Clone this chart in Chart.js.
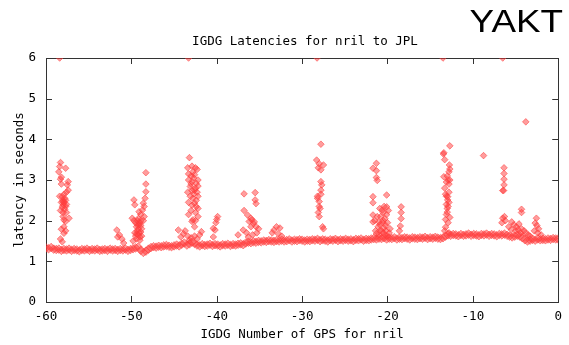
<!DOCTYPE html>
<html lang="en">
<head>
<meta charset="UTF-8">
<title>IGDG Latencies for nril to JPL</title>
<script src="https://cdn.jsdelivr.net/npm/chart.js@4.4.1/dist/chart.umd.min.js"></script>
<style>
    body { margin: 0; background: #fff; }
    #wrap { width: 569px; height: 345px; }
</style>
</head>
<body>
<div id="wrap"><canvas id="latChart" width="569" height="345"></canvas></div>
<script>
// x = GPS number offset, y = latency in seconds
const xTicks = [-60, -50, -40, -30, -20, -10, 0];
const yTicks = [0, 1, 2, 3, 4, 5, 6];

// the dense band of normal latencies
const baseline = [
    [-60.0,1.33],[-59.7,1.31],[-59.4,1.34],[-59.1,1.30],[-58.8,1.29],[-58.5,1.30],[-58.2,1.27],[-57.9,1.29],[-57.6,1.28],[-57.3,1.30],
    [-57.0,1.27],[-56.7,1.29],[-56.4,1.28],[-56.1,1.26],[-55.8,1.29],[-55.5,1.28],[-55.2,1.30],[-54.9,1.27],[-54.6,1.29],[-54.3,1.28],
    [-54.0,1.30],[-53.7,1.27],[-53.4,1.28],[-53.1,1.29],[-52.8,1.27],[-52.5,1.30],[-52.2,1.28],[-51.9,1.29],[-51.6,1.27],[-51.3,1.29],
    [-51.0,1.28],[-50.7,1.30],[-50.4,1.27],[-50.1,1.29],[-49.8,1.31],[-49.5,1.33],[-49.2,1.35],[-48.9,1.27],[-48.6,1.22],[-48.3,1.25],
    [-48.0,1.30],[-47.7,1.34],[-47.4,1.36],[-47.1,1.35],[-46.8,1.37],[-46.5,1.36],[-46.2,1.38],[-45.9,1.39],[-45.6,1.37],[-45.3,1.36],
    [-45.0,1.38],[-44.7,1.40],[-44.4,1.38],[-44.1,1.42],[-43.8,1.45],[-43.5,1.40],[-43.2,1.43],[-42.9,1.47],[-42.6,1.44],[-42.3,1.40],
    [-42.0,1.38],[-41.7,1.41],[-41.4,1.39],[-41.1,1.40],[-40.8,1.42],[-40.5,1.39],[-40.2,1.41],[-39.9,1.40],[-39.6,1.38],[-39.3,1.41],
    [-39.0,1.40],[-38.7,1.42],[-38.4,1.39],[-38.1,1.41],[-37.8,1.40],[-37.5,1.42],[-37.2,1.43],[-36.9,1.41],[-36.6,1.45],[-36.3,1.47],
    [-36.0,1.46],[-35.7,1.48],[-35.4,1.47],[-35.1,1.49],[-34.8,1.48],[-34.5,1.50],[-34.2,1.49],[-33.9,1.51],[-33.6,1.50],[-33.3,1.49],
    [-33.0,1.51],[-32.7,1.50],[-32.4,1.52],[-32.1,1.50],[-31.8,1.51],[-31.5,1.53],[-31.2,1.50],[-30.9,1.52],[-30.6,1.51],[-30.3,1.53],
    [-30.0,1.52],[-29.7,1.50],[-29.4,1.52],[-29.1,1.51],[-28.8,1.53],[-28.5,1.52],[-28.2,1.54],[-27.9,1.51],[-27.6,1.53],[-27.3,1.52],
    [-27.0,1.50],[-26.7,1.53],[-26.4,1.52],[-26.1,1.54],[-25.8,1.51],[-25.5,1.53],[-25.2,1.52],[-24.9,1.54],[-24.6,1.52],[-24.3,1.53],
    [-24.0,1.51],[-23.7,1.54],[-23.4,1.53],[-23.1,1.55],[-22.8,1.52],[-22.5,1.54],[-22.2,1.53],[-21.9,1.55],[-21.6,1.56],[-21.3,1.55],
    [-21.0,1.57],[-20.7,1.56],[-20.4,1.58],[-20.1,1.55],[-19.8,1.57],[-19.5,1.56],[-19.2,1.58],[-18.9,1.55],[-18.6,1.57],[-18.3,1.56],
    [-18.0,1.58],[-17.7,1.57],[-17.4,1.55],[-17.1,1.58],[-16.8,1.57],[-16.5,1.56],[-16.2,1.58],[-15.9,1.57],[-15.6,1.59],[-15.3,1.56],
    [-15.0,1.58],[-14.7,1.57],[-14.4,1.59],[-14.1,1.57],[-13.8,1.56],[-13.5,1.58],[-13.2,1.62],[-12.9,1.65],[-12.6,1.64],[-12.3,1.66],
    [-12.0,1.65],[-11.7,1.63],[-11.4,1.66],[-11.1,1.64],[-10.8,1.65],[-10.5,1.67],[-10.2,1.64],[-9.9,1.66],[-9.6,1.65],[-9.3,1.63],
    [-9.0,1.66],[-8.7,1.65],[-8.4,1.67],[-8.1,1.64],[-7.8,1.66],[-7.5,1.65],[-7.2,1.63],[-6.9,1.66],[-6.6,1.65],[-6.3,1.67],
    [-6.0,1.64],[-5.7,1.62],[-5.4,1.60],[-5.1,1.62],[-4.8,1.64],[-4.5,1.62],[-4.2,1.58],[-3.9,1.53],[-3.6,1.50],[-3.3,1.52],
    [-3.0,1.54],[-2.7,1.52],[-2.4,1.55],[-2.1,1.53],[-1.8,1.54],[-1.5,1.53],[-1.2,1.55],[-0.9,1.54],[-0.6,1.56],[-0.3,1.55],
    [0.0,1.55]
];

// latency spikes above the band
const spikes = [
    [-58.3,3.43],[-58.4,3.33],[-58.5,3.20],[-58.2,3.07],[-58.3,3.02],[-57.7,3.29],[-57.4,2.96],[-57.5,2.88],[-57.4,2.75],[-57.6,2.70],
    [-58.4,2.60],[-58.1,2.59],[-58.0,2.50],[-58.0,2.47],[-57.9,2.44],[-57.7,2.35],[-58.1,2.33],[-57.8,2.28],[-57.6,2.40],[-58.0,2.20],
    [-57.9,2.02],[-57.7,1.98],[-57.3,2.06],[-58.2,1.79],[-57.7,1.75],[-57.9,1.69],[-58.1,1.48],[-58.3,1.55],
    [-58.2,2.90],[-57.9,2.65],[-58.2,2.45],[-57.8,2.55],[-57.6,2.20],[-58.0,2.38],[-57.7,2.50],[-58.3,2.25],[-57.9,1.85],[-58.0,2.10],
    [-51.7,1.77],[-51.6,1.60],[-51.4,1.65],[-51.1,1.55],[-50.9,1.45],
    [-49.7,2.51],[-49.6,2.39],[-49.9,2.06],[-49.7,2.00],[-49.5,1.95],[-49.4,1.85],[-49.3,1.75],[-49.6,1.70],[-49.2,1.65],[-49.0,1.60],
    [-49.4,1.55],[-48.9,1.72],[-49.1,1.90],[-48.9,2.00],[-49.2,2.05],[-48.3,3.18],[-48.3,2.90],[-48.3,2.71],[-48.6,2.43],[-48.5,2.35],
    [-48.7,2.26],[-49.1,2.22],[-48.9,2.15],[-49.3,1.90],[-48.8,1.80],[-49.5,1.62],[-49.8,1.50],
    [-49.3,2.00],[-49.0,1.95],[-49.2,1.80],[-48.9,1.88],[-49.1,1.70],[-49.4,1.68],[-48.8,1.62],[-49.0,1.52],[-48.6,2.00],[-48.4,2.55],
    [-48.5,2.10],
    [-43.2,3.55],[-42.9,3.34],[-42.8,3.20],[-42.3,3.26],[-42.6,3.13],[-43.3,3.00],[-42.9,2.96],[-42.4,2.92],[-43.1,2.84],[-42.5,2.80],
    [-42.9,2.74],[-42.3,2.70],[-42.7,2.66],[-42.4,2.50],[-42.6,2.43],[-42.4,2.35],[-42.9,2.38],[-42.8,2.02],[-42.9,1.98],[-42.2,2.10],
    [-41.8,1.73],[-42.0,1.65],[-44.5,1.77],[-43.7,1.75],[-43.4,1.62],[-44.2,1.60],[-43.9,1.68],[-43.0,1.58],[-42.6,1.62],[-43.2,1.52],
    [-43.0,3.10],[-42.7,3.05],[-43.1,2.60],[-42.8,2.55],[-42.5,2.20],[-43.0,2.25],[-42.6,1.85],[-42.3,1.55],
    [-43.4,3.30],[-43.3,3.15],[-42.2,3.00],[-43.4,2.70],[-42.2,2.60],[-43.3,2.45],[-42.2,2.30],[-43.3,2.15],[-42.5,2.00],[-42.2,2.85],
    [-43.0,2.90],[-42.6,2.75],[-42.5,3.30],
    [-39.9,2.10],[-40.0,2.03],[-40.4,1.81],[-40.4,1.60],[-40.1,1.95],[-40.2,1.77],
    [-36.8,2.66],[-35.5,2.69],[-35.5,2.51],[-35.4,2.42],[-36.8,2.25],[-36.4,2.14],[-36.0,2.06],[-36.2,1.98],[-35.9,2.02],[-35.7,1.93],
    [-35.4,1.85],[-35.6,1.97],[-35.1,1.80],[-36.5,1.70],[-37.5,1.65],[-36.9,1.77],[-36.0,1.85],[-36.3,1.60],[-35.8,1.65],[-35.3,1.70],
    [-33.3,1.77],[-33.0,1.85],[-32.6,1.82],[-33.5,1.70],[-32.8,1.68],[-32.4,1.62],
    [-27.8,3.88],[-28.3,3.49],[-27.5,3.37],[-28.1,3.30],[-27.8,3.25],[-28.0,3.40],[-27.8,2.96],[-27.7,2.88],[-27.8,2.75],[-28.2,2.55],
    [-28.0,2.47],[-28.0,2.35],[-28.1,2.20],[-28.0,2.10],[-27.6,1.85],[-27.5,1.80],[-27.8,2.65],[-28.2,2.60],[-27.9,2.30],
    [-21.7,3.29],[-21.3,3.41],[-21.3,3.23],[-21.3,3.06],[-21.2,2.99],[-21.7,2.59],[-21.7,2.44],[-21.7,1.97],[-20.1,2.63],[-21.7,2.14],
    [-20.1,2.34],[-20.6,2.26],[-20.5,2.20],[-20.8,2.10],[-20.3,2.05],[-21.0,1.97],[-20.6,1.95],[-20.2,1.88],[-21.1,1.85],[-20.4,1.82],
    [-20.7,1.75],[-20.2,1.75],[-21.0,1.65],[-20.3,1.65],[-20.0,1.62],[-19.8,1.70],[-21.4,1.75],[-20.9,2.30],
    [-21.5,2.00],[-21.2,2.10],[-20.9,1.90],[-20.5,2.00],[-20.0,1.95],[-19.7,1.80],[-20.5,1.70],[-20.9,1.75],[-21.3,1.68],[-20.1,2.15],
    [-19.9,2.25],[-20.4,2.35],
    [-18.4,2.34],[-18.4,2.20],[-18.4,2.05],[-18.5,1.87],[-18.6,1.75],
    [-13.4,3.67],[-13.45,3.64],[-12.7,3.84],[-12.75,3.37],[-12.7,3.27],[-12.9,3.00],[-12.7,3.00],[-13.4,3.08],[-13.3,2.80],[-12.95,2.59],
    [-12.95,2.51],[-13.0,2.30],[-13.0,2.21],[-13.2,2.03],[-12.7,2.08],[-13.2,1.84],[-13.1,2.95],[-12.8,2.90],[-13.2,2.65],[-12.8,2.45],
    [-13.1,2.40],[-13.3,3.50],[-12.8,3.20],[-13.0,3.10],[-12.8,2.70],[-13.1,2.60],[-12.9,2.35],[-13.1,2.15],[-12.9,1.95],[-13.3,1.75],
    [-12.8,1.70],
    [-8.75,3.60],
    [-6.35,3.30],[-6.35,3.16],[-6.35,3.02],[-6.35,2.88],[-6.5,2.74],[-6.4,2.74],[-6.5,2.06],[-6.3,2.10],[-6.6,1.95],[-6.2,2.00],
    [-5.45,1.97],[-5.2,1.90],[-4.9,1.85],[-4.6,1.92],[-4.3,1.80],[-4.0,1.75],[-3.8,1.70],[-5.0,1.75],[-4.4,1.70],[-4.3,2.28],
    [-4.3,2.20],[-3.8,4.43],[-5.8,1.85],[-5.5,1.78],[-4.7,1.78],[-3.5,1.65],[-3.3,1.62],
    [-2.56,2.06],[-2.7,1.94],[-2.5,1.88],[-2.3,1.80],[-2.8,1.75],[-2.4,1.70],[-2.0,1.65]
];

// readings pinned at the top of the scale
const topHits = [[-58.4,6],[-43.3,6],[-28.25,6],[-13.5,6],[-6.5,6]];

const pointFill = 'rgba(255, 60, 60, 0.5)';
const pointEdge = 'rgba(255, 60, 60, 0.55)';
const monoFont = { family: 'DejaVu Sans Mono', size: 12.5 };

function toPoints(list) {
    return list.map(p => ({ x: p[0], y: p[1] }));
}

function makeSet(label, list, radius) {
    return {
        label: label,
        data: toPoints(list),
        pointStyle: 'rectRot',
        pointRadius: radius,
        backgroundColor: pointFill,
        borderColor: pointEdge,
        borderWidth: 1
    };
}

// gnuplot-style frame with inward ticks on all four sides, plus the titles
const framePlugin = {
    id: 'frame',
    beforeDatasetsDraw(chart) {
        const ctx = chart.ctx;
        const a = chart.chartArea;
        const xs = chart.scales.x, ys = chart.scales.y;
        ctx.save();
        ctx.strokeStyle = '#333';
        ctx.lineWidth = 1;
        ctx.strokeRect(Math.round(a.left) + 0.5, Math.round(a.top) + 0.5,
                       Math.round(a.right - a.left), Math.round(a.bottom - a.top));
        ctx.beginPath();
        xTicks.forEach(v => {
            const px = Math.round(xs.getPixelForValue(v)) + 0.5;
            ctx.moveTo(px, a.bottom); ctx.lineTo(px, a.bottom - 6);
            ctx.moveTo(px, a.top); ctx.lineTo(px, a.top + 6);
        });
        yTicks.forEach(v => {
            const py = Math.round(ys.getPixelForValue(v)) + 0.5;
            ctx.moveTo(a.left, py); ctx.lineTo(a.left + 6, py);
            ctx.moveTo(a.right, py); ctx.lineTo(a.right - 6, py);
        });
        ctx.stroke();
        ctx.restore();
    },
    afterDraw(chart) {
        const ctx = chart.ctx;
        ctx.save();
        ctx.fillStyle = '#000';
        ctx.textAlign = 'center';
        ctx.textBaseline = 'middle';
        ctx.font = '12.5px "DejaVu Sans Mono"';
        ctx.fillText('IGDG Latencies for nril to JPL', 305, 42);
        // station name, a bit wider than plain Liberation Sans
        ctx.translate(563, 32);
        ctx.scale(1.15, 1);
        ctx.textAlign = 'right';
        ctx.textBaseline = 'alphabetic';
        ctx.font = '32px "Liberation Sans"';
        ctx.fillText('YAKT', 0, 0);
        ctx.restore();
    }
};

new Chart(document.getElementById('latChart'), {
    type: 'scatter',
    data: {
        datasets: [
            makeSet('baseline', baseline, 4.3),
            makeSet('spikes', spikes, 3.3),
            makeSet('top', topHits, 3.3)
        ]
    },
    options: {
        responsive: false,
        animation: false,
        events: [],
        layout: { padding: { top: 58, right: 5, left: 0, bottom: 0 } },
        plugins: {
            legend: { display: false },
            tooltip: { enabled: false }
        },
        scales: {
            x: {
                type: 'linear',
                min: -60,
                max: 0,
                afterFit(scale) { scale.height = 43; },
                afterBuildTicks(scale) { scale.ticks = xTicks.map(v => ({ value: v })); },
                grid: { display: false, drawTicks: false, tickLength: 0 },
                border: { display: false },
                ticks: { color: '#000', font: monoFont, padding: 7, maxRotation: 0 },
                title: {
                    display: true,
                    text: 'IGDG Number of GPS for nril',
                    color: '#000',
                    font: monoFont,
                    padding: { top: 0, bottom: 3 }
                }
            },
            y: {
                min: 0,
                max: 6,
                afterFit(scale) { scale.width = 46; },
                afterBuildTicks(scale) { scale.ticks = yTicks.map(v => ({ value: v })); },
                grid: { display: false, drawTicks: false, tickLength: 0 },
                border: { display: false },
                ticks: { color: '#000', font: monoFont, padding: 10 },
                title: {
                    display: true,
                    text: 'latency in seconds',
                    color: '#000',
                    font: monoFont,
                    padding: { top: 12, bottom: 0 }
                }
            }
        }
    },
    plugins: [framePlugin]
});
</script>
</body>
</html>
